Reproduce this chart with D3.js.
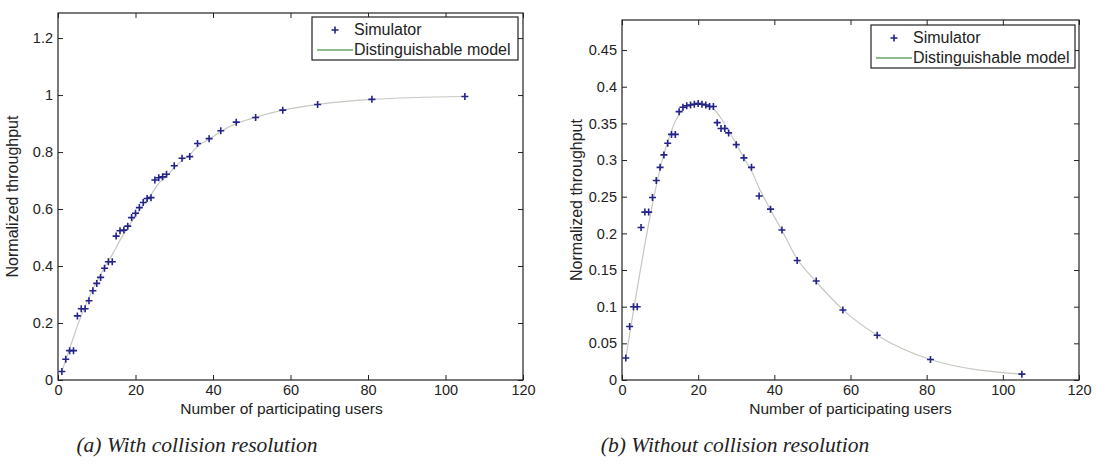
<!DOCTYPE html>
<html>
<head>
<meta charset="utf-8">
<script src="https://cdn.jsdelivr.net/npm/d3@7"></script>
<style>
  body { margin: 0; background: #fff; }
  svg text { fill: #222; }
</style>
</head>
<body>
<svg id="chart" width="1097" height="466"></svg>
<script>
// number of participating users where the simulator was sampled
var users = [1, 2, 3, 4, 5, 6, 7, 8, 9, 10, 11, 12, 13, 14, 15, 16, 17, 18, 19, 20,
  21, 22, 23, 24, 25, 26, 27, 28, 30, 32, 34, 36, 39, 42, 46, 51, 58, 67, 81, 105];

// (a) with collision resolution
var simA = [0.03, 0.073, 0.103, 0.103, 0.225, 0.25, 0.25, 0.278, 0.313, 0.339,
  0.36, 0.392, 0.415, 0.415, 0.505, 0.524, 0.526, 0.54, 0.57, 0.585,
  0.605, 0.623, 0.637, 0.64, 0.702, 0.71, 0.713, 0.722, 0.752, 0.778,
  0.784, 0.83, 0.847, 0.875, 0.905, 0.921, 0.947, 0.967, 0.985, 0.995];
var modelUsersA = [1, 2, 3, 4, 5, 6, 8, 10, 12, 14, 16, 18, 20, 22, 24, 26, 28, 30, 32,
  34, 36, 39, 42, 46, 51, 58, 67, 81, 105];
var modelA = [0.03, 0.07, 0.11, 0.15, 0.19, 0.225, 0.29, 0.345, 0.395, 0.44, 0.49,
  0.535, 0.575, 0.615, 0.65, 0.69, 0.715, 0.745, 0.77, 0.79, 0.82, 0.845, 0.872,
  0.9, 0.922, 0.947, 0.967, 0.985, 0.995];

// (b) without collision resolution
var simB = [0.03, 0.073, 0.1, 0.1, 0.208, 0.229, 0.229, 0.249, 0.272, 0.29,
  0.307, 0.323, 0.335, 0.335, 0.366, 0.372, 0.374, 0.375, 0.376, 0.377,
  0.376, 0.375, 0.373, 0.373, 0.351, 0.343, 0.343, 0.337, 0.321, 0.303,
  0.29, 0.251, 0.233, 0.2045, 0.163, 0.135, 0.0955, 0.061, 0.028, 0.008];
var modelUsersB = [1, 2, 3, 4, 5, 6, 7, 8, 9, 10, 11, 12, 13, 14, 15, 16, 18, 20, 22,
  24, 26, 28, 30, 32, 34, 36, 39, 42, 46, 51, 58, 67, 81, 105];
var modelB = [0.03, 0.062, 0.094, 0.125, 0.155, 0.185, 0.213, 0.24, 0.265, 0.288,
  0.308, 0.325, 0.34, 0.353, 0.362, 0.369, 0.376, 0.378, 0.376, 0.37, 0.357, 0.34,
  0.322, 0.303, 0.285, 0.262, 0.232, 0.204, 0.165, 0.134, 0.096, 0.061, 0.028, 0.008];

var xTicks = [0, 20, 40, 60, 80, 100, 120];
var yTicksA = [0, 0.2, 0.4, 0.6, 0.8, 1, 1.2];
var yTicksB = [0, 0.05, 0.1, 0.15, 0.2, 0.25, 0.3, 0.35, 0.4, 0.45];
var legendLabels = ["Simulator", "Distinguishable model"];
var xLabel = "Number of participating users";
var yLabel = "Normalized throughput";
var captions = ["(a) With collision resolution", "(b) Without collision resolution"];

var svg = d3.select("#chart");
// quoted names only work through style(), not the attribute
var sans = "'Liberation Sans', Arial, sans-serif";
var serif = "'Liberation Serif', 'Times New Roman', serif";
var markColor = "#23238a";
var modelColor = "#c5c9c0";

function fmt(d) { return d === 0 ? "0" : String(+d.toFixed(2)); }

function drawPanel(p) {
  var x = d3.scaleLinear().domain([0, 120]).range([p.left, p.right]);
  var y = d3.scaleLinear().domain([0, p.ymax]).range([p.bottom, p.top]);
  var g = svg.append("g");

  // ticks inside on all four sides (matlab box)
  var tl = 5;
  g.append("g").attr("transform", "translate(0," + p.bottom + ")")
    .call(d3.axisBottom(x).tickValues(xTicks).tickSize(-tl).tickPadding(5).tickFormat(fmt));
  g.append("g").attr("transform", "translate(0," + p.top + ")")
    .call(d3.axisTop(x).tickValues(xTicks).tickSize(-tl).tickFormat(""));
  g.append("g").attr("transform", "translate(" + p.left + ",0)")
    .call(d3.axisLeft(y).tickValues(p.yTicks).tickSize(-tl).tickPadding(5).tickFormat(fmt));
  g.append("g").attr("transform", "translate(" + p.right + ",0)")
    .call(d3.axisRight(y).tickValues(p.yTicks).tickSize(-tl).tickFormat(""));
  g.selectAll(".domain").remove();
  g.selectAll(".tick line").attr("stroke", "#222");
  g.selectAll(".tick text").style("font-family", sans).style("font-size", "14.5px").attr("fill", "#222");

  g.append("rect")
    .attr("x", p.left).attr("y", p.top)
    .attr("width", p.right - p.left).attr("height", p.bottom - p.top)
    .attr("fill", "none").attr("stroke", "#222").attr("stroke-width", 1.2);

  // model curve
  var line = d3.line().x(function (d) { return x(d[0]); }).y(function (d) { return y(d[1]); })
    .curve(d3.curveMonotoneX);
  g.append("path").datum(d3.zip(p.modelX, p.model))
    .attr("d", line).attr("fill", "none").attr("stroke", modelColor).attr("stroke-width", 1.2);

  // simulator markers
  var s = 3.5;
  g.selectAll(".pt").data(d3.zip(users, p.sim)).enter().append("path")
    .attr("class", "pt")
    .attr("d", function (d) {
      var cx = x(d[0]), cy = y(d[1]);
      return "M" + (cx - s) + "," + cy + "H" + (cx + s) + "M" + cx + "," + (cy - s) + "V" + (cy + s);
    })
    .attr("stroke", markColor).attr("stroke-width", 1.6).attr("fill", "none");

  // axis labels
  g.append("text").attr("x", (p.left + p.right) / 2 + p.xLabShift).attr("y", p.bottom + 34)
    .attr("text-anchor", "middle").style("font-family", sans).style("font-size", "15.5px").text(xLabel);
  g.append("text")
    .attr("transform", "translate(" + (p.left - 40) + "," + ((p.top + p.bottom) / 2) + ") rotate(-90)")
    .attr("text-anchor", "middle").style("font-family", sans).style("font-size", "16px").text(yLabel);

  // legend
  var lg = g.append("g").attr("transform", "translate(" + p.legX + "," + p.legY + ")");
  lg.append("rect").attr("width", p.legW).attr("height", 43)
    .attr("fill", "#fff").attr("stroke", "#222").attr("stroke-width", 1.2);
  lg.append("path").attr("d", "M" + (23 - s) + ",13H" + (23 + s) + "M23," + (13 - s) + "V" + (13 + s))
    .attr("stroke", markColor).attr("stroke-width", 1.6);
  lg.append("line").attr("x1", 5).attr("x2", 41).attr("y1", 33).attr("y2", 33)
    .attr("stroke", "#1f7a1f").attr("stroke-width", 1.2);
  lg.selectAll("text.leg").data(legendLabels).enter().append("text")
    .attr("class", "leg").attr("x", 42).attr("y", function (d, i) { return 18 + i * 20; })
    .style("font-family", sans).style("font-size", "16px").text(function (d) { return d; });

  // caption
  svg.append("text").attr("x", p.capX).attr("y", 452)
    .attr("text-anchor", "middle")
    .style("font-family", serif).style("font-style", "italic").style("font-size", "21.5px")
    .text(p.caption);
}

drawPanel({ left: 58, right: 523, top: 13, bottom: 380, ymax: 1.288, yTicks: yTicksA,
  sim: simA, modelX: modelUsersA, model: modelA, legX: 312, legY: 17, legW: 206,
  capX: 197, xLabShift: -9, caption: captions[0] });
drawPanel({ left: 622, right: 1079, top: 20, bottom: 380, ymax: 0.491, yTicks: yTicksB,
  sim: simB, modelX: modelUsersB, model: modelB, legX: 871, legY: 25, legW: 204,
  capX: 735, xLabShift: 0, caption: captions[1] });
</script>
</body>
</html>
